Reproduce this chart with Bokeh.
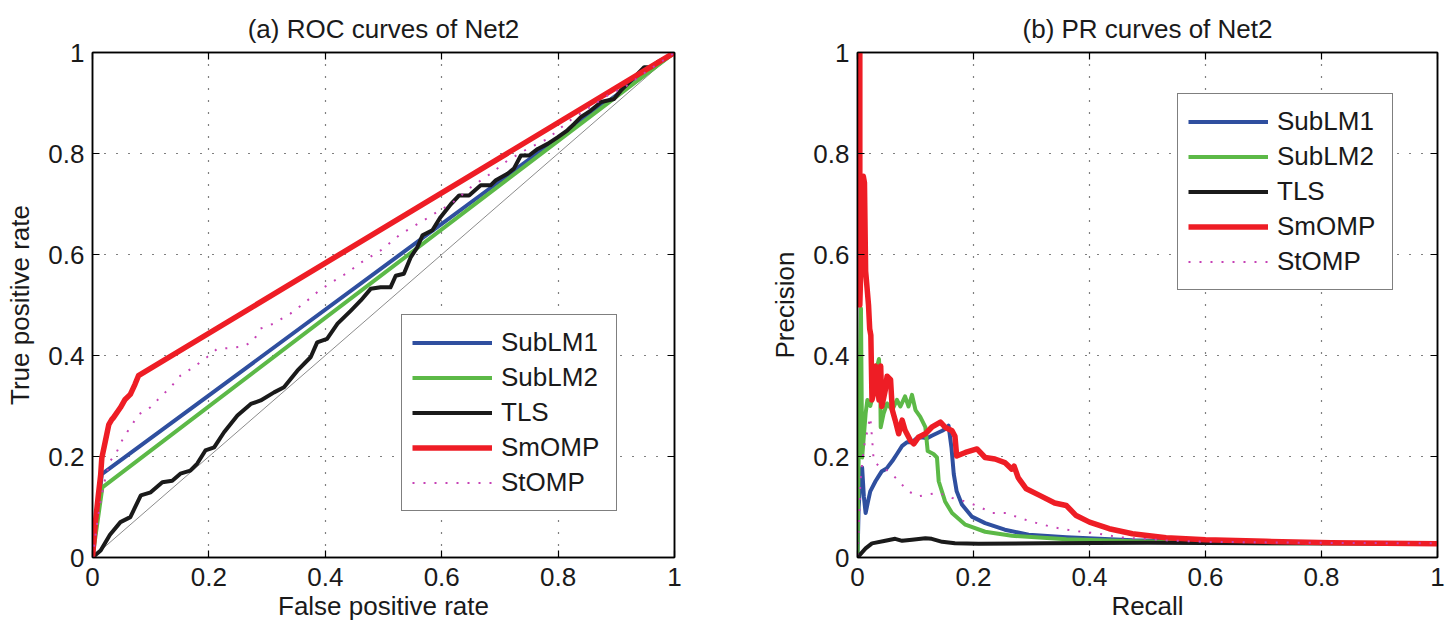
from bokeh.plotting import figure
from bokeh.models import Range1d, FixedTicker, LinearAxis, Legend, LegendItem
from bokeh.layouts import row
from bokeh.embed import file_html
from bokeh.resources import INLINE

# ---------------- data ----------------
tick_values = [0.0, 0.2, 0.4, 0.6, 0.8, 1.0]
tick_labels = ["0", "0.2", "0.4", "0.6", "0.8", "1"]
series_names = ["SubLM1", "SubLM2", "TLS", "SmOMP", "StOMP"]

diag_x = [0.0, 1.0]
diag_y = [0.0, 1.0]

# ROC curves
roc_sublm1_fpr = [0.0, 0.016, 1.0]
roc_sublm1_tpr = [0.0, 0.165, 1.0]
roc_sublm2_fpr = [0.0, 0.017, 1.0]
roc_sublm2_tpr = [0.0, 0.139, 1.0]
roc_tls_fpr = [0.0, 0.014, 0.03, 0.048, 0.065, 0.083, 0.1, 0.12, 0.137, 0.151, 0.168, 0.18,
               0.194, 0.209, 0.226, 0.249, 0.272, 0.289, 0.312, 0.329, 0.352, 0.375, 0.386,
               0.403, 0.421, 0.444, 0.461, 0.478, 0.495, 0.512, 0.521, 0.535, 0.547, 0.558,
               0.567, 0.584, 0.598, 0.616, 0.63, 0.647, 0.667, 0.684, 0.693, 0.713, 0.724,
               0.736, 0.75, 0.765, 0.782, 0.799, 0.816, 0.828, 0.839, 0.856, 0.874, 0.896,
               0.908, 0.922, 0.937, 0.948, 0.96, 0.971, 0.988, 1.0]
roc_tls_tpr = [0.0, 0.014, 0.045, 0.07, 0.08, 0.123, 0.129, 0.149, 0.152, 0.166, 0.172, 0.186,
               0.212, 0.218, 0.248, 0.281, 0.304, 0.311, 0.327, 0.337, 0.37, 0.397, 0.426,
               0.433, 0.463, 0.489, 0.509, 0.532, 0.535, 0.535, 0.558, 0.562, 0.595, 0.614,
               0.638, 0.648, 0.674, 0.7, 0.717, 0.717, 0.737, 0.737, 0.747, 0.76, 0.77,
               0.796, 0.796, 0.809, 0.819, 0.832, 0.846, 0.859, 0.872, 0.885, 0.902, 0.908,
               0.925, 0.941, 0.958, 0.971, 0.971, 0.981, 0.991, 1.0]
roc_smomp_fpr = [0.0, 0.005, 0.01, 0.014, 0.016, 0.022, 0.028, 0.033, 0.036, 0.048, 0.056,
                 0.065, 0.073, 0.079, 1.0]
roc_smomp_tpr = [0.0, 0.07, 0.123, 0.163, 0.197, 0.23, 0.263, 0.273, 0.277, 0.297, 0.313,
                 0.323, 0.343, 0.36, 1.0]
roc_stomp_fpr = [0.0, 0.005, 0.01, 0.016, 0.022, 0.03, 0.042, 0.053, 0.068, 0.079, 0.099,
                 0.116, 0.134, 0.151, 0.174, 0.197, 0.214, 0.237, 0.26, 0.277, 0.288, 0.311,
                 0.34, 0.363, 0.391, 0.414, 0.437, 0.46, 0.495, 0.53, 0.564, 0.596, 0.616,
                 0.65, 0.684, 0.713, 0.747, 0.782, 0.816, 0.85, 0.885, 0.919, 0.954, 0.988, 1.0]
roc_stomp_tpr = [0.0, 0.043, 0.083, 0.123, 0.157, 0.19, 0.21, 0.237, 0.263, 0.283, 0.297,
                 0.317, 0.337, 0.36, 0.377, 0.397, 0.413, 0.415, 0.418, 0.43, 0.453, 0.463,
                 0.483, 0.503, 0.53, 0.547, 0.563, 0.583, 0.608, 0.641, 0.664, 0.687, 0.7,
                 0.733, 0.76, 0.786, 0.809, 0.829, 0.862, 0.888, 0.915, 0.935, 0.964, 0.99, 1.0]

# PR curves
pr_sublm1_rec = [0.0, 0.002, 0.005, 0.008, 0.011, 0.014, 0.018, 0.022, 0.026, 0.031, 0.036,
                 0.042, 0.05, 0.06, 0.068, 0.077, 0.085, 0.094, 0.102, 0.111, 0.12, 0.128,
                 0.137, 0.146, 0.152, 0.157, 0.162, 0.166, 0.171, 0.18, 0.197, 0.22, 0.254,
                 0.295, 0.36, 0.474, 0.589, 0.7, 0.85, 1.0]
pr_sublm1_prec = [0.0, 0.1, 0.15, 0.178, 0.12, 0.088, 0.11, 0.131, 0.14, 0.151, 0.16,
                  0.171, 0.176, 0.191, 0.205, 0.221, 0.228, 0.228, 0.236, 0.238, 0.236, 0.241,
                  0.246, 0.251, 0.255, 0.261, 0.218, 0.165, 0.131, 0.105, 0.081, 0.068, 0.055,
                  0.045, 0.04, 0.034, 0.031, 0.029, 0.028, 0.027]
pr_sublm2_rec = [0.0, 0.003, 0.006, 0.008, 0.014, 0.017, 0.022, 0.028, 0.034, 0.037, 0.039,
                 0.04, 0.045, 0.051, 0.06, 0.068, 0.074, 0.082, 0.088, 0.094, 0.1, 0.108,
                 0.117, 0.121, 0.131, 0.137, 0.14, 0.151, 0.163, 0.186, 0.22, 0.266, 0.36,
                 0.474, 0.6, 0.8, 1.0]
pr_sublm2_prec = [0.0, 0.3, 0.493, 0.198, 0.285, 0.312, 0.3, 0.326, 0.379, 0.393, 0.352,
                  0.258, 0.285, 0.305, 0.292, 0.312, 0.299, 0.319, 0.299, 0.322, 0.292, 0.279,
                  0.258, 0.211, 0.205, 0.198, 0.151, 0.111, 0.088, 0.065, 0.051, 0.043, 0.036,
                  0.032, 0.029, 0.028, 0.027]
pr_tls_rec = [0.0, 0.014, 0.025, 0.048, 0.065, 0.077, 0.094, 0.117, 0.128, 0.146, 0.168,
              0.209, 0.323, 0.5, 0.7, 0.85, 1.0]
pr_tls_prec = [0.0, 0.018, 0.028, 0.033, 0.037, 0.033, 0.035, 0.038, 0.037, 0.031, 0.028,
               0.027, 0.028, 0.029, 0.028, 0.028, 0.027]
pr_smomp_rec = [0.0, 0.004, 0.004, 0.01, 0.012, 0.014, 0.015, 0.019, 0.021, 0.023, 0.025,
                0.028, 0.031, 0.034, 0.037, 0.04, 0.042, 0.048, 0.051, 0.057, 0.06, 0.065,
                0.071, 0.077, 0.082, 0.091, 0.097, 0.105, 0.117, 0.128, 0.143, 0.151, 0.163,
                0.168, 0.171, 0.186, 0.206, 0.22, 0.237, 0.254, 0.266, 0.27, 0.277, 0.291,
                0.314, 0.34, 0.36, 0.377, 0.4, 0.434, 0.474, 0.532, 0.6, 0.704, 0.818, 1.0]
pr_smomp_prec = [1.0, 1.0, 0.5, 0.755, 0.742, 0.567, 0.554, 0.5, 0.453, 0.44, 0.312,
                 0.326, 0.379, 0.352, 0.312, 0.379, 0.299, 0.332, 0.359, 0.352, 0.292, 0.272,
                 0.245, 0.272, 0.252, 0.232, 0.225, 0.238, 0.245, 0.258, 0.268, 0.258, 0.251,
                 0.24, 0.201, 0.208, 0.215, 0.198, 0.195, 0.188, 0.175, 0.181, 0.158, 0.136,
                 0.123, 0.108, 0.103, 0.083, 0.07, 0.057, 0.047, 0.039, 0.035, 0.032, 0.029, 0.027]
pr_stomp_rec = [0.0, 0.003, 0.005, 0.008, 0.011, 0.017, 0.022, 0.025, 0.028, 0.037, 0.048,
                0.06, 0.071, 0.088, 0.105, 0.123, 0.14, 0.163, 0.186, 0.209, 0.232, 0.257,
                0.28, 0.303, 0.337, 0.371, 0.417, 0.452, 0.492, 0.532, 0.6, 0.8, 1.0]
pr_stomp_prec = [0.005, 0.085, 0.151, 0.185, 0.218, 0.251, 0.278, 0.238, 0.191, 0.181, 0.175,
                 0.165, 0.151, 0.131, 0.121, 0.125, 0.128, 0.118, 0.111, 0.101, 0.088, 0.088,
                 0.078, 0.07, 0.06, 0.053, 0.047, 0.04, 0.037, 0.034, 0.031, 0.029, 0.028]

# ---------------- styling ----------------
FONT = "Liberation Sans"
TXT = "#1a1a1a"
COLORS = {"SubLM1": "#2f4f9f", "SubLM2": "#5cb947", "TLS": "#1a1a1a",
          "SmOMP": "#ee1d25", "StOMP": "#c640b5"}
WIDTHS = {"SubLM1": 4, "SubLM2": 4, "TLS": 4, "SmOMP": 5.5, "StOMP": 2}
FIG_H = 624


def make_fig(title, xlabel, ylabel, width, bl, br):
    p = figure(width=width, height=FIG_H, output_backend="svg", toolbar_location=None,
               x_range=Range1d(0, 1), y_range=Range1d(0, 1),
               min_border_left=bl, min_border_right=br, min_border_top=52,
               min_border_bottom=FIG_H - 557, x_axis_label=xlabel, y_axis_label=ylabel,
               title=title)
    p.title.align = "center"
    p.title.text_font = FONT
    p.title.text_font_size = "26px"
    p.title.text_font_style = "normal"
    p.title.text_color = TXT
    p.title.vertical_align = "middle"
    p.title.standoff = 15
    p.outline_line_color = "black"
    p.outline_line_width = 1.5
    p.background_fill_color = "white"
    p.border_fill_color = "white"
    overrides = {v: l for v, l in zip(tick_values, tick_labels)}
    for ax in [p.xaxis[0], p.yaxis[0]]:
        ax.ticker = FixedTicker(ticks=tick_values)
        ax.major_label_overrides = overrides
        ax.major_label_text_font = FONT
        ax.major_label_text_font_size = "26px"
        ax.major_label_text_color = TXT
        ax.axis_label_text_font = FONT
        ax.axis_label_text_font_size = "26px"
        ax.axis_label_text_font_style = "normal"
        ax.axis_label_text_color = TXT
        ax.major_tick_in = 7
        ax.major_tick_out = 0
        ax.minor_tick_line_color = None
        ax.axis_line_color = "black"
        ax.axis_line_width = 1.5
        ax.major_tick_line_color = "black"
        ax.major_tick_line_width = 1.2
    p.xaxis[0].major_label_standoff = 10
    p.xaxis[0].axis_label_standoff = 2
    p.yaxis[0].major_label_standoff = 8
    p.yaxis[0].axis_label_standoff = 10
    blank = {v: "" for v in tick_values}
    for side in ["above", "right"]:
        ax = LinearAxis(ticker=FixedTicker(ticks=tick_values))
        ax.major_label_overrides = blank
        ax.major_label_text_font_size = "1px"
        ax.major_label_standoff = 0
        ax.major_tick_in = 7
        ax.major_tick_out = 0
        ax.minor_tick_line_color = None
        ax.axis_line_color = "black"
        ax.axis_line_width = 1.5
        ax.major_tick_line_color = "black"
        ax.major_tick_line_width = 1.2
        p.add_layout(ax, side)
    p.grid.ticker = FixedTicker(ticks=tick_values)
    p.grid.grid_line_color = "black"
    p.grid.grid_line_width = 1.2
    p.grid.grid_line_dash = "1 11"
    return p


def add_legend(p, renderers, loc):
    items = [LegendItem(label=n, renderers=[r]) for n, r in zip(series_names, renderers)]
    lg = Legend(items=items, location=loc)
    lg.label_text_font = FONT
    lg.label_text_font_size = "26px"
    lg.label_text_color = TXT
    lg.glyph_width = 80
    lg.glyph_height = 35
    lg.label_height = 35
    lg.label_width = 105
    lg.label_standoff = 9
    lg.padding = 10
    lg.spacing = 0
    lg.margin = 0
    lg.border_line_color = "black"
    lg.border_line_width = 1.3
    lg.background_fill_color = "white"
    lg.background_fill_alpha = 1.0
    p.add_layout(lg)


def draw(p, xs_list):
    rs = []
    for name, (xs, ys) in zip(series_names, xs_list):
        if name == "StOMP":
            r = p.line(xs, ys, line_color=COLORS[name], line_width=WIDTHS[name],
                       line_dash="2 9")
        else:
            r = p.line(xs, ys, line_color=COLORS[name], line_width=WIDTHS[name],
                       line_join="round")
        rs.append(r)
    return rs


p1 = make_fig("(a) ROC curves of Net2", "False positive rate", "True positive rate", 738, 92, 64)
p1.line(diag_x, diag_y, line_color="#8c8c8c", line_width=1)
r1 = draw(p1, [(roc_sublm1_fpr, roc_sublm1_tpr), (roc_sublm2_fpr, roc_sublm2_tpr),
               (roc_tls_fpr, roc_tls_tpr), (roc_smomp_fpr, roc_smomp_tpr),
               (roc_stomp_fpr, roc_stomp_tpr)])
add_legend(p1, r1, (309, 46))

p2 = make_fig("(b) PR curves of Net2", "Recall", "Precision", 718, 119, 19)
r2 = draw(p2, [(pr_sublm1_rec, pr_sublm1_prec), (pr_sublm2_rec, pr_sublm2_prec),
               (pr_tls_rec, pr_tls_prec), (pr_smomp_rec, pr_smomp_prec),
               (pr_stomp_rec, pr_stomp_prec)])
add_legend(p2, r2, (320, 267))

layout = row(p1, p2)
open("out.html", "w").write(file_html(layout, INLINE))
